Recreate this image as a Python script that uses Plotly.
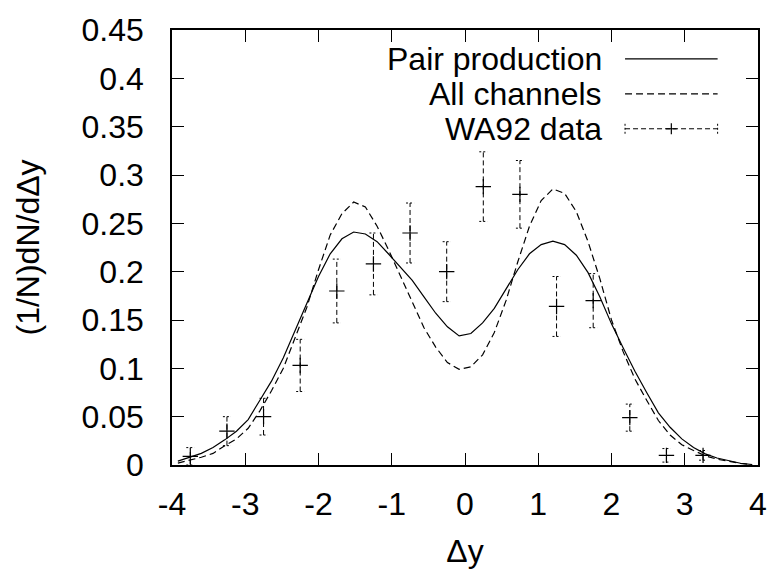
import plotly.graph_objects as go

# ---------------- data ----------------
curve_x = [-3.92, -3.76, -3.60, -3.44, -3.28, -3.12, -2.96, -2.80, -2.64, -2.48,
           -2.32, -2.16, -2.00, -1.84, -1.68, -1.52, -1.36, -1.20, -1.04, -0.88,
           -0.72, -0.56, -0.40, -0.24, -0.08, 0.08, 0.24, 0.40, 0.56, 0.72,
           0.88, 1.04, 1.20, 1.36, 1.52, 1.68, 1.84, 2.00, 2.16, 2.32,
           2.48, 2.64, 2.80, 2.96, 3.12, 3.28, 3.44, 3.60, 3.76, 3.92]

pair_production = [0.004, 0.008, 0.012, 0.018, 0.026, 0.035, 0.047, 0.067, 0.087, 0.111,
                   0.140, 0.167, 0.195, 0.2185, 0.234, 0.241, 0.239, 0.231, 0.218, 0.205,
                   0.191, 0.174, 0.157, 0.143, 0.1335, 0.136, 0.147, 0.162, 0.182, 0.202,
                   0.2185, 0.228, 0.2315, 0.228, 0.217, 0.199, 0.174, 0.146, 0.121, 0.097,
                   0.075, 0.054, 0.039, 0.027, 0.018, 0.0115, 0.0072, 0.0045, 0.0018, 0.0005]

all_channels = [0.002, 0.005, 0.008, 0.012, 0.020, 0.027, 0.038, 0.056, 0.077, 0.100,
                0.131, 0.163, 0.202, 0.238, 0.260, 0.272, 0.267, 0.247, 0.222, 0.195,
                0.168, 0.142, 0.122, 0.106, 0.099, 0.1015, 0.114, 0.137, 0.170, 0.210,
                0.247, 0.2735, 0.2856, 0.281, 0.262, 0.231, 0.193, 0.150, 0.117, 0.089,
                0.067, 0.046, 0.031, 0.021, 0.015, 0.0095, 0.006, 0.0038, 0.0017, 0.0004]

wa92_x = [-3.75, -3.25, -2.75, -2.25, -1.75, -1.25, -0.75, -0.25,
          0.25, 0.75, 1.25, 1.75, 2.25, 2.75, 3.25]
wa92_y = [0.009, 0.035, 0.050, 0.103, 0.180, 0.208, 0.240, 0.200,
          0.288, 0.280, 0.164, 0.170, 0.049, 0.010, 0.010]
wa92_err = [0.009, 0.015, 0.019, 0.027, 0.033, 0.032, 0.031, 0.031,
            0.036, 0.035, 0.031, 0.028, 0.014, 0.007, 0.005]

x_tick_vals = [-4, -3, -2, -1, 0, 1, 2, 3, 4]
x_tick_labels = ["-4", "-3", "-2", "-1", "0", "1", "2", "3", "4"]
y_tick_vals = [0, 0.05, 0.1, 0.15, 0.2, 0.25, 0.3, 0.35, 0.4, 0.45]
y_tick_labels = ["0", "0.05", "0.1", "0.15", "0.2", "0.25", "0.3", "0.35", "0.4", "0.45"]

legend_labels = ["Pair production", "All channels", "WA92 data"]

# ---------------- style / layout ----------------
W, H = 779, 586
L, R, T, B = 172, 767, 29, 465
FONT = "Liberation Sans, Arial, sans-serif"
FS = 32
CAP = 0.055  # half-width of error bar caps, x units

def px(xp):
    return (xp - L) / (R - L)

def py(yp):
    return (B - yp) / (B - T)

fig = go.Figure()

fig.add_trace(go.Scatter(x=curve_x, y=pair_production, mode="lines",
                         line=dict(color="black", width=1.2), hoverinfo="skip"))
fig.add_trace(go.Scatter(x=curve_x, y=all_channels, mode="lines",
                         line=dict(color="black", width=1.2, dash="7px,4px"), hoverinfo="skip"))

# error bars (dashed) built from data
ex, ey, cx, cy = [], [], [], []
for xv, yv, ev in zip(wa92_x, wa92_y, wa92_err):
    lo, hi = max(yv - ev, 0.0), yv + ev
    ex += [xv, xv, None]
    ey += [lo, hi, None]
    for yc in (lo, hi):
        cx += [xv - CAP, xv + CAP, None]
        cy += [yc, yc, None]

fig.add_trace(go.Scatter(x=ex, y=ey, mode="lines", connectgaps=False,
                         line=dict(color="black", width=1, dash="5px,3px"), hoverinfo="skip"))
fig.add_trace(go.Scatter(x=cx, y=cy, mode="lines", connectgaps=False,
                         line=dict(color="black", width=1, dash="2px,2px"), hoverinfo="skip"))
fig.add_trace(go.Scatter(x=wa92_x, y=wa92_y, mode="markers",
                         marker=dict(symbol="cross-thin", size=11, color="black",
                                     line=dict(color="black", width=1.2)),
                         hoverinfo="skip"))

axis_common = dict(showline=True, linecolor="black", linewidth=1.5, mirror="allticks",
                   ticks="inside", ticklen=12, tickwidth=1.2, tickcolor="black",
                   showgrid=False, zeroline=False,
                   tickfont=dict(family=FONT, size=FS, color="black"))

fig.update_xaxes(range=[-4, 4], tickvals=x_tick_vals, ticktext=x_tick_labels,
                 ticklabelstandoff=10,
                 title=dict(text="Δy", font=dict(family=FONT, size=FS, color="black"),
                            standoff=18),
                 **axis_common)
fig.update_yaxes(range=[0, 0.45], tickvals=y_tick_vals, ticktext=y_tick_labels,
                 ticklabelstandoff=20,
                 title=dict(text="(1/N)dN/dΔy", font=dict(family=FONT, size=FS, color="black"),
                            standoff=32),
                 **axis_common)

# legend (gnuplot style: right-aligned text, sample on the right)
leg_rows = [58, 93, 128]
tx = px(610)
sx0, sx1 = px(632), px(726)
annotations = []
shapes = []
for lab, yr in zip(legend_labels, leg_rows):
    annotations.append(dict(xref="paper", yref="paper", x=tx, y=py(yr), text=lab,
                            xanchor="right", yanchor="middle", showarrow=False,
                            borderpad=0,
                            font=dict(family=FONT, size=FS, color="black")))
shapes.append(dict(type="line", xref="paper", yref="paper", x0=sx0, x1=sx1,
                   y0=py(leg_rows[0]), y1=py(leg_rows[0]), line=dict(color="black", width=1.2)))
shapes.append(dict(type="line", xref="paper", yref="paper", x0=sx0, x1=sx1,
                   y0=py(leg_rows[1]), y1=py(leg_rows[1]),
                   line=dict(color="black", width=1.2, dash="7px,4px")))
yw = leg_rows[2]
shapes.append(dict(type="line", xref="paper", yref="paper", x0=sx0, x1=sx1,
                   y0=py(yw), y1=py(yw), line=dict(color="black", width=1, dash="5px,3px")))
for xe in (632, 726):
    shapes.append(dict(type="line", xref="paper", yref="paper", x0=px(xe), x1=px(xe),
                       y0=py(yw - 5), y1=py(yw + 5),
                       line=dict(color="black", width=1, dash="2px,2px")))
xc = 679
shapes.append(dict(type="line", xref="paper", yref="paper", x0=px(xc - 5.5), x1=px(xc + 5.5),
                   y0=py(yw), y1=py(yw), line=dict(color="black", width=1.2)))
shapes.append(dict(type="line", xref="paper", yref="paper", x0=px(xc), x1=px(xc),
                   y0=py(yw - 5.5), y1=py(yw + 5.5), line=dict(color="black", width=1.2)))

fig.update_layout(width=W, height=H, margin=dict(l=L, r=W - R, t=T, b=H - B),
                  plot_bgcolor="white", paper_bgcolor="white", showlegend=False,
                  font=dict(family=FONT, size=FS, color="black"),
                  annotations=annotations, shapes=shapes)

fig.write_html("out.html")
